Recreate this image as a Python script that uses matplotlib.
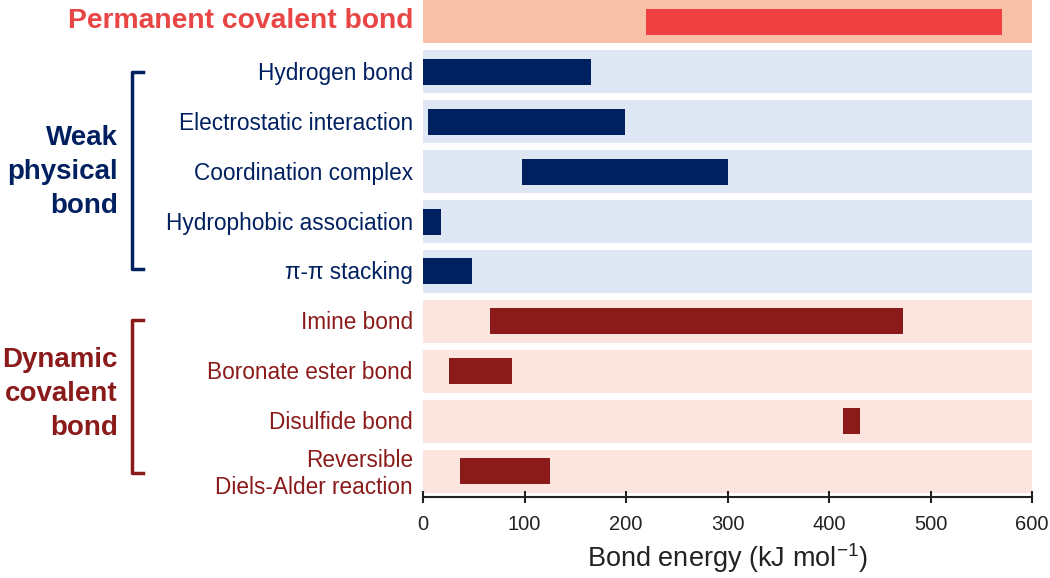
import matplotlib.pyplot as plt
import numpy as np

plt.rcParams['font.family'] = ['Liberation Sans', 'DejaVu Sans']

labels = ['Permanent covalent bond', 'Hydrogen bond', 'Electrostatic interaction',
          'Coordination complex', 'Hydrophobic association', 'π-π stacking',
          'Imine bond', 'Boronate ester bond', 'Disulfide bond',
          'Reversible\nDiels-Alder reaction']
groups = ['perm', 'weak', 'weak', 'weak', 'weak', 'weak', 'dyn', 'dyn', 'dyn', 'dyn']
e_low = [220, 0, 5, 98, 0, 0, 66, 26, 414, 36]
e_high = [570, 166, 199, 300, 18, 48, 473, 88, 431, 125]
xticks = [0, 100, 200, 300, 400, 500, 600]

band_col = {'perm': '#F9C0A8', 'weak': '#DFE7F4', 'dyn': '#FCE4DF'}
bar_col = {'perm': '#EE4040', 'weak': '#002060', 'dyn': '#8B1A1A'}
txt_col = {'perm': '#E84545', 'weak': '#002060', 'dyn': '#8B1A1A'}

fig = plt.figure(figsize=(10.5, 5.78), dpi=100)
ax = fig.add_axes([423 / 1050, 81 / 578, 609 / 1050, 497 / 578])

y = np.arange(len(labels))
ax.barh(y, [600] * len(y), left=0, height=0.86,
        color=[band_col[g] for g in groups], zorder=1)
ax.barh(y, np.array(e_high) - np.array(e_low), left=e_low, height=0.52,
        color=[bar_col[g] for g in groups], zorder=2)

ax.set_xlim(0, 600)
ax.set_ylim(9.52, -0.44)
ax.set_yticks([])
for s in ['left', 'right', 'top']:
    ax.spines[s].set_visible(False)
ax.spines['bottom'].set_linewidth(1.5)
ax.spines['bottom'].set_color('#222222')
ax.set_xticks(xticks)
ax.tick_params(axis='x', direction='inout', length=8, width=1.5,
               labelsize=14.5, pad=9, colors='#222222')
ax.set_xlabel('Bond energy (kJ mol$^{\\mathregular{-1}}$)', fontsize=19.5,
              color='#222222', labelpad=5)

# row labels
for i, (lab, g) in enumerate(zip(labels, groups)):
    if g == 'perm':
        fig.text(413 / 1050, 1 - 21 / 578, lab, ha='right', va='center',
                 fontsize=20.3, fontweight='bold', color=txt_col[g])
    else:
        off = 0.06 if '\n' in lab else 0.03
        ax.text(-10, i + off, lab, ha='right', va='center', fontsize=16.3,
                color=txt_col[g], linespacing=1.2, clip_on=False)

# group labels and brackets
fig.text(118 / 1050, 1 - 172 / 578, 'Weak\nphysical\nbond', ha='right', va='center',
         fontsize=20, fontweight='bold', color='#002060', linespacing=1.38)
fig.text(118 / 1050, 1 - 394 / 578, 'Dynamic\ncovalent\nbond', ha='right', va='center',
         fontsize=20, fontweight='bold', color='#8B1A1A', linespacing=1.42)

def bracket(y0, y1, color):
    xs = np.array([143, 132, 132, 143]) / 1050
    ys = 1 - np.array([y0, y0, y1, y1]) / 578
    fig.add_artist(plt.Line2D(xs, ys, color=color, lw=2.5))

bracket(72, 269, '#002060')
bracket(320, 473, '#8B1A1A')

fig.savefig('out.png', dpi=100)
